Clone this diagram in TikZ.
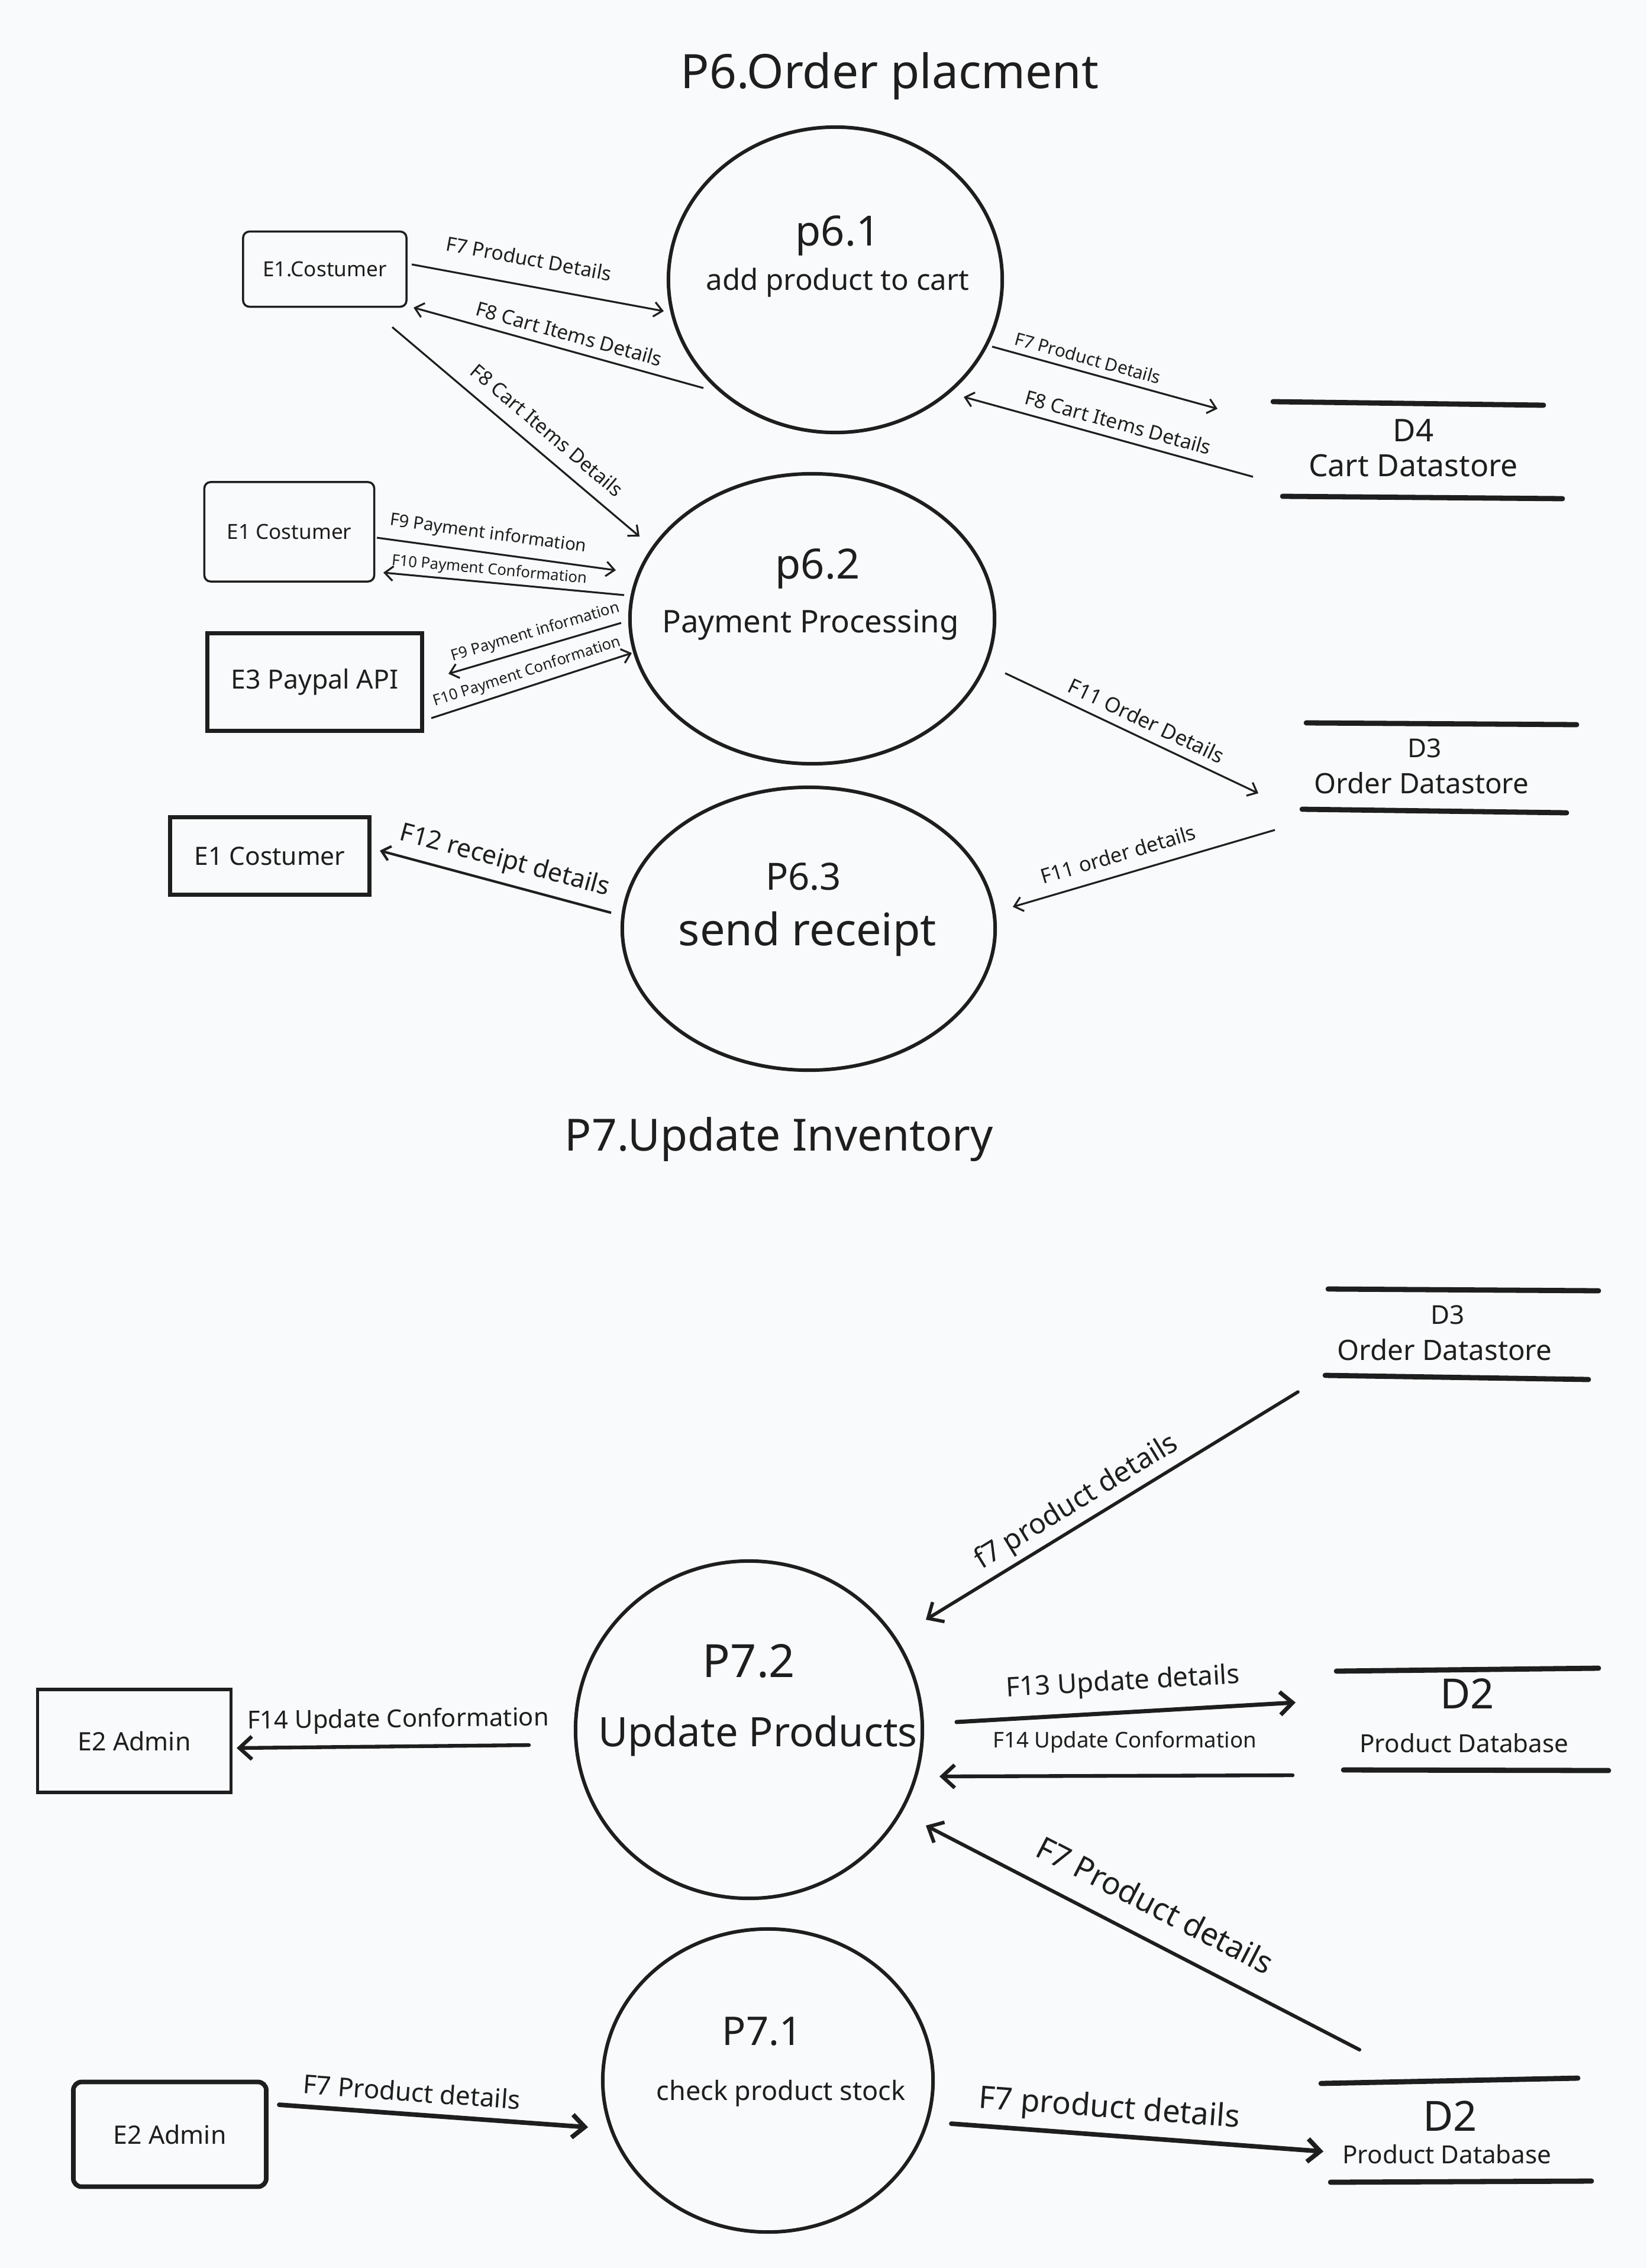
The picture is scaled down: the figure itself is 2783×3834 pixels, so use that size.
\documentclass[tikz,border=0pt]{standalone}
\usepackage{fontspec}
\setmainfont{Noto Sans}
\usetikzlibrary{arrows.meta,shapes.geometric}
\definecolor{ink}{HTML}{1E1E1E}
\definecolor{paper}{HTML}{F9FAFB}
\begin{document}
\begin{tikzpicture}[x=0.01cm,y=-0.01cm,
  proc/.style={ellipse,draw=ink,line width=1.7pt,inner sep=0pt},
  ent/.style={rectangle,draw=ink,text=ink,inner sep=0pt},
  txt/.style={text=ink,inner sep=0pt},
  fs/.style={font=\fontsize{#1}{#1}\selectfont},
  thinflow/.style={draw=ink,line width=0.9pt,-{Straight Barb[length=4pt,width=7pt]}},
  thickflow/.style={draw=ink,line width=#1,line cap=round,-{Straight Barb[length=6pt,width=11pt]}},
  thickflow/.default=2pt,
  storeline/.style={draw=ink,line width=2.5pt,line cap=round}]
\fill[paper] (0,0) rectangle (2783,3834);
\useasboundingbox (0,0) rectangle (2783,3834);

% ---------------- titles
\node[txt,fs=22.8,anchor=base] (t6) at (1504,150) {P6.Order placment};
\node[txt,fs=21.3,anchor=base] (t7) at (1317,1945) {P7.Update Inventory};

% ---------------- processes P6
\node[proc,minimum width=5.64cm,minimum height=5.16cm] (p61) at (1412,473) {};
\node[txt,fs=20,anchor=base] (p61a) at (1416,416) {p6.1};
\node[txt,fs=14,anchor=base] (p61b) at (1416,491) {add product to cart};

\node[proc,minimum width=6.16cm,minimum height=4.90cm] (p62) at (1373,1046) {};
\node[txt,fs=20,anchor=base] (p62a) at (1382,978) {p6.2};
\node[txt,fs=15,anchor=base] (p62b) at (1370,1069) {Payment Processing};

\node[proc,minimum width=6.30cm,minimum height=4.78cm] (p63) at (1367,1570) {};
\node[txt,fs=18,anchor=base] (p63a) at (1358,1504) {P6.3};
\node[txt,fs=21.5,anchor=base] (p63b) at (1365,1598) {send receipt};

% ---------------- processes P7
\node[proc,minimum width=5.86cm,minimum height=5.70cm] (p72) at (1266,2924) {};
\node[txt,fs=22,anchor=base] (p72a) at (1266,2835) {P7.2};
\node[txt,fs=19.5,anchor=base] (p72b) at (1281,2952) {Update Products};

\node[proc,minimum width=5.58cm,minimum height=5.12cm] (p71) at (1298,3517) {};
\node[txt,fs=19,anchor=base] (p71a) at (1288,3457) {P7.1};
\node[txt,fs=12.8,anchor=base] (p71b) at (1320,3550) {check product stock};

% ---------------- external entities
\node[ent,line width=1pt,rounded corners=3pt,minimum width=2.76cm,minimum height=1.27cm,fs=10] (e1a) at (549,455) {E1.Costumer};
\node[ent,line width=1pt,rounded corners=3pt,minimum width=2.87cm,minimum height=1.68cm,fs=10] (e1b) at (489,899) {E1 Costumer};
\node[ent,line width=2pt,minimum width=3.62cm,minimum height=1.64cm,fs=12.7] (e3) at (532,1153) {E3 Paypal API};
\node[ent,line width=2pt,minimum width=3.37cm,minimum height=1.31cm,fs=12.1] (e1c) at (456,1447) {E1 Costumer};
\node[ent,line width=1.6pt,minimum width=3.27cm,minimum height=1.74cm,fs=12.2] (e2a) at (227,2943) {E2 Admin};
\node[ent,line width=2.2pt,rounded corners=4pt,minimum width=3.26cm,minimum height=1.77cm,fs=12.2] (e2b) at (287,3608) {E2 Admin};

% ---------------- data stores
\draw[storeline] (2152,679) -- (2609,685);
\draw[storeline] (2168,839) -- (2641,843);
\node[txt,fs=15,anchor=base] (d4a) at (2389,747) {D4};
\node[txt,fs=14.7,anchor=base] (d4b) at (2389,806) {Cart Datastore};

\draw[storeline] (2208,1222) -- (2665,1225);
\draw[storeline] (2201,1368) -- (2648,1374);
\node[txt,fs=12.5,anchor=base] (d3a) at (2408,1280) {D3};
\node[txt,fs=13.5,anchor=base] (d3b) at (2403,1341) {Order Datastore};

\draw[storeline] (2245,2179) -- (2702,2182);
\draw[storeline] (2240,2325) -- (2685,2332);
\node[txt,fs=12.5,anchor=base] (d3c) at (2447,2238) {D3};
\node[txt,fs=13.5,anchor=base] (d3d) at (2442,2299) {Order Datastore};

\draw[storeline] (2259,2825) -- (2702,2820);
\draw[storeline] (2271,2992) -- (2719,2993);
\node[txt,fs=20,anchor=base] (d2a) at (2480,2888) {D2};
\node[txt,fs=12,anchor=base] (d2b) at (2475,2962) {Product Database};

\draw[storeline] (2233,3522) -- (2667,3513);
\draw[storeline] (2249,3689) -- (2690,3687);
\node[txt,fs=20,anchor=base] (d2c) at (2451,3602) {D2};
\node[txt,fs=12,anchor=base] (d2d) at (2446,3657) {Product Database};

% ---------------- flow end points
\coordinate (a1s) at (696,447);   \coordinate (a1e) at (1122,526);
\coordinate (a2s) at (1189,656);  \coordinate (a2e) at (699,520);
\coordinate (a3s) at (663,553);   \coordinate (a3e) at (1081,907);
\coordinate (a4s) at (637,909);   \coordinate (a4e) at (1041,964);
\coordinate (a5s) at (1055,1006); \coordinate (a5e) at (648,968);
\coordinate (a6s) at (1050,1053); \coordinate (a6e) at (758,1139);
\coordinate (a7s) at (729,1214);  \coordinate (a7e) at (1068,1104);
\coordinate (a8s) at (1677,586);  \coordinate (a8e) at (2058,691);
\coordinate (a9s) at (2118,806);  \coordinate (a9e) at (1629,671);
\coordinate (a10s) at (1699,1138); \coordinate (a10e) at (2127,1341);
\coordinate (a11s) at (2155,1403); \coordinate (a11e) at (1712,1533);
\coordinate (a12s) at (1033,1543); \coordinate (a12e) at (642,1438);
\coordinate (b1s) at (2194,2353); \coordinate (b1e) at (1565,2738);
\coordinate (b2s) at (894,2950);  \coordinate (b2e) at (400,2955);
\coordinate (b3s) at (1617,2911); \coordinate (b3e) at (2190,2878);
\coordinate (b4s) at (2185,3001); \coordinate (b4e) at (1588,3003);
\coordinate (b5s) at (2298,3465); \coordinate (b5e) at (1565,3086);
\coordinate (b6s) at (472,3558);  \coordinate (b6e) at (994,3596);
\coordinate (b7s) at (1608,3590); \coordinate (b7e) at (2237,3637);

% ---------------- flows P6
\draw[thinflow] (a1s) -- (a1e);
\node[txt,fs=9.5,rotate=-10.5] (l1) at (894,437) {F7 Product Details};
\draw[thinflow] (a2s) -- (a2e);
\node[txt,fs=9.5,rotate=-15.5] (l2) at (962,564) {F8 Cart Items Details};
\draw[thinflow] (a3s) -- (a3e);
\node[txt,fs=9.5,rotate=-40.3] (l3) at (925,727) {F8 Cart Items Details};
\draw[thinflow] (a4s) -- (a4e);
\node[txt,fs=8.4,rotate=-7.8] (l4) at (825,903) {F9 Payment information};
\draw[thinflow] (a5s) -- (a5e);
\node[txt,fs=7.3,rotate=-5.3] (l5) at (827,964) {F10 Payment Conformation};
\draw[thinflow] (a6s) -- (a6e);
\node[txt,fs=7.4,rotate=16.4] (l6) at (905,1069) {F9 Payment information};
\draw[thinflow] (a7s) -- (a7e);
\node[txt,fs=7.3,rotate=18] (l7) at (891,1136) {F10 Payment Conformation};
\draw[thinflow] (a8s) -- (a8e);
\node[txt,fs=8.5,rotate=-15.4] (l8) at (1839,605) {F7 Product Details};
\draw[thinflow] (a9s) -- (a9e);
\node[txt,fs=9.5,rotate=-15.4] (l9) at (1890,714) {F8 Cart Items Details};
\draw[thinflow] (a10s) -- (a10e);
\node[txt,fs=10,rotate=-25.4] (l10) at (1938,1218) {F11 Order Details};
\draw[thinflow] (a11s) -- (a11e);
\node[txt,fs=9.8,rotate=16.4] (l11) at (1890,1444) {F11 order details};
\draw[thinflow,line width=1.2pt] (a12s) -- (a12e);
\node[txt,fs=12.2,rotate=-15] (l12) at (853,1456) {F12 receipt details};

% ---------------- flows P7
\draw[thickflow=1.6pt] (b1s) -- (b1e);
\node[txt,fs=13.6,rotate=31.5] (m1) at (1820,2540) {f7 product details};
\draw[thickflow=1.8pt] (b2s) -- (b2e);
\node[txt,fs=11.9,rotate=0.6] (m2) at (673,2909) {F14 Update Conformation};
\draw[thickflow=2pt] (b3s) -- (b3e);
\node[txt,fs=12.9,rotate=3.3] (m3) at (1898,2845) {F13 Update details};
\draw[thickflow=1.8pt] (b4s) -- (b4e);
\node[txt,fs=10.4] (m4) at (1901,2945) {F14 Update Conformation};
\draw[thickflow=1.7pt] (b5s) -- (b5e);
\node[txt,fs=15,rotate=-27.3] (m5) at (1953,3220) {F7 Product details};
\draw[thickflow=2.2pt] (b6s) -- (b6e);
\node[txt,fs=12.5,rotate=-4.2] (m6) at (696,3536) {F7 Product details};
\draw[thickflow=2.2pt] (b7s) -- (b7e);
\node[txt,fs=15,rotate=-4.3] (m7) at (1875,3566) {F7 product details};
\end{tikzpicture}
\end{document}
